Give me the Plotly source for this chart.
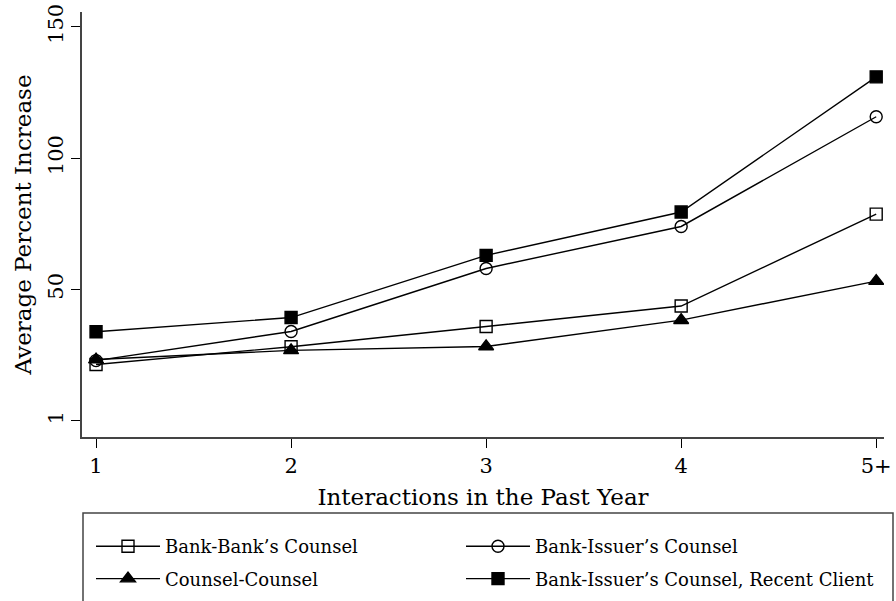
import plotly.graph_objects as go

# Interactions in the past year (x categories)
interactions = [1, 2, 3, 4, 5]
interaction_labels = ["1", "2", "3", "4", "5+"]

# Average percent increase for each relationship type
bank_bank_counsel = [21.4, 28.2, 35.9, 43.7, 78.7]
bank_issuer_counsel = [22.9, 34.0, 58.0, 74.0, 115.8]
counsel_counsel = [23.3, 26.8, 28.3, 38.3, 53.2]
bank_issuer_recent = [33.9, 39.3, 63.0, 79.5, 131.0]

# y tick positions and their printed labels
ytick_vals = [0, 50, 100, 150]
ytick_text = ["1", "50", "100", "150"]

FONT = "DejaVu Serif"
INK = "black"

# (name, values, marker symbol, marker size, legend column)
series = [
    ("Bank-Bank’s Counsel", bank_bank_counsel, "square-open", 12, "legend"),
    ("Bank-Issuer’s Counsel", bank_issuer_counsel, "circle-open", 12, "legend2"),
    ("Counsel-Counsel", counsel_counsel, "triangle-up", 13, "legend"),
    ("Bank-Issuer’s Counsel, Recent Client", bank_issuer_recent, "square", 12, "legend2"),
]

fig = go.Figure()
for name, vals, sym, size, leg in series:
    fig.add_trace(go.Scatter(
        x=interactions, y=vals, name=name, mode="lines+markers",
        legend=leg, legendgroup=name,
        line=dict(color=INK, width=1.4),
        marker=dict(symbol=sym, size=size, color=INK,
                    line=dict(color=INK, width=1.4)),
    ))

W, H = 896, 601
ml, mr, mt, mb = 82, 12, 12, 164
pw, ph = W - ml - mr, H - mt - mb

def px_to_paper_x(px):
    return (px - ml) / pw

def px_to_paper_y(py):
    return (H - mb - py) / ph

def legend_column(left_px):
    return dict(
        orientation="v",
        x=px_to_paper_x(left_px), xanchor="left",
        y=px_to_paper_y(528), yanchor="top",
        itemwidth=64,
        font=dict(family=FONT, size=18, color=INK),
        bgcolor="rgba(0,0,0,0)",
        tracegroupgap=6,
    )

fig.update_layout(
    width=W, height=H,
    margin=dict(l=ml, r=mr, t=mt, b=mb, autoexpand=False),
    paper_bgcolor="white", plot_bgcolor="white",
    font=dict(family=FONT, size=18, color=INK),
    showlegend=True,
    legend=legend_column(91),
    legend2=legend_column(461),
    xaxis=dict(
        range=[0.928, 5.04],
        tickvals=interactions, ticktext=interaction_labels,
        showline=True, linecolor="#444", linewidth=1.5,
        ticks="outside", ticklen=9, tickwidth=1.3, tickcolor=INK,
        showgrid=False, zeroline=False,
        tickfont=dict(family=FONT, size=21),
        title=dict(text="Interactions in the Past Year",
                   font=dict(family=FONT, size=23), standoff=12),
    ),
    yaxis=dict(
        range=[-6.2, 155.7],
        tickvals=ytick_vals, ticktext=ytick_text, tickangle=-90,
        showline=True, linecolor="#444", linewidth=1.5,
        ticks="outside", ticklen=9, tickwidth=1.3, tickcolor=INK,
        showgrid=False, zeroline=False,
        tickfont=dict(family=FONT, size=21),
        title=dict(text="Average Percent Increase",
                   font=dict(family=FONT, size=23), standoff=6),
    ),
    shapes=[dict(
        type="rect", xref="paper", yref="paper",
        x0=px_to_paper_x(83), x1=px_to_paper_x(893),
        y0=px_to_paper_y(513), y1=px_to_paper_y(640),
        line=dict(color="#444", width=1.5), fillcolor="rgba(0,0,0,0)",
        layer="below",
    )],
)

fig.write_html("out.html")
